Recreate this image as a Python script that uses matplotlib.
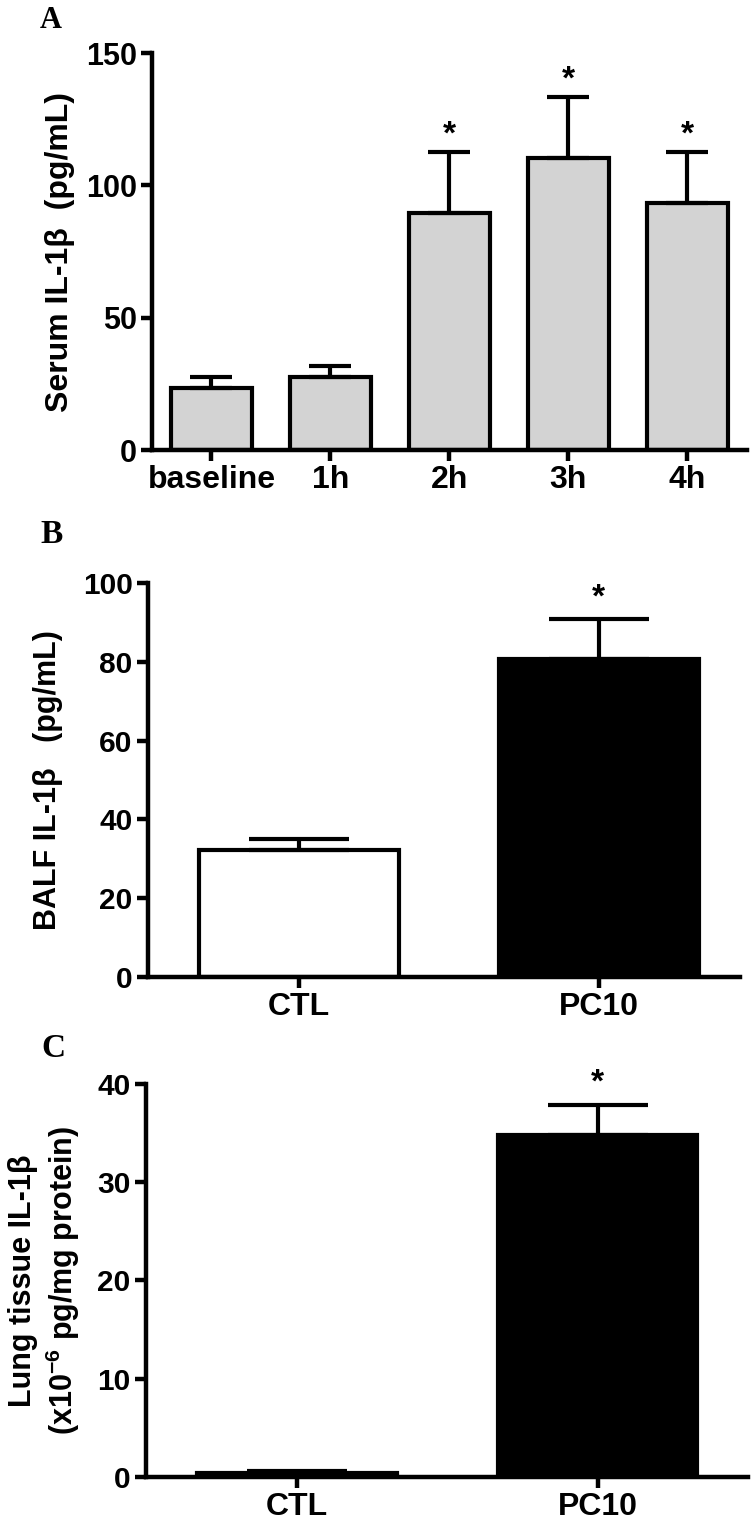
import numpy as np
import matplotlib
matplotlib.use('Agg')
import matplotlib.pyplot as plt

# Panel A: serum IL-1b over time
a_labels = ['baseline', '1h', '2h', '3h', '4h']
a_means = [23.5, 27.7, 89.5, 110.3, 93.3]
a_errs = [4.2, 4.1, 23.1, 23.1, 19.3]
a_sig = [False, False, True, True, True]

# Panel B: BALF IL-1b
b_labels = ['CTL', 'PC10']
b_means = [32.2, 80.7]
b_errs = [2.8, 10.2]
b_sig = [False, True]

# Panel C: lung tissue IL-1b
c_labels = ['CTL', 'PC10']
c_means = [0.45, 34.8]
c_errs = [0.15, 3.1]
c_sig = [False, True]

sans = 'Liberation Sans'
serif = 'Liberation Serif'

plt.rcParams['font.family'] = [sans, 'DejaVu Sans']
plt.rcParams['font.weight'] = 'bold'
plt.rcParams['axes.linewidth'] = 3.2
plt.rcParams['mathtext.fontset'] = 'custom'
plt.rcParams['mathtext.rm'] = sans + ':bold'
plt.rcParams['mathtext.default'] = 'rm'

fig = plt.figure(figsize=(7.55, 15.25), dpi=100)

LW = 3.0


def draw_panel(ax, labels, means, errs, sig, colors, ylim, yticks, width,
               xlim, capsize, ytick_size, xtick_size, star_off):
    x = np.arange(len(labels))
    ax.bar(x, means, width=width, color=colors, edgecolor='black',
           linewidth=LW, zorder=2)
    ax.errorbar(x, means, yerr=[np.zeros(len(errs)), errs], fmt='none',
                ecolor='black', elinewidth=LW, capsize=capsize, capthick=LW,
                zorder=3)
    for xi, m, e, s in zip(x, means, errs, sig):
        if s:
            ax.annotate('*', (xi, m + e), xytext=(0, star_off),
                        textcoords='offset points', ha='center', va='bottom',
                        fontsize=24, fontweight='bold')
    ax.set_xlim(*xlim)
    ax.set_ylim(*ylim)
    ax.set_yticks(yticks)
    ax.set_xticks(x)
    ax.set_xticklabels(labels)
    for sp in ['top', 'right']:
        ax.spines[sp].set_visible(False)
    ax.tick_params(axis='both', direction='out', width=3.2, length=8, pad=3)
    for t in ax.get_yticklabels():
        t.set_fontsize(ytick_size)
        t.set_fontweight('bold')
    for t in ax.get_xticklabels():
        t.set_fontsize(xtick_size)
        t.set_fontweight('bold')


# Panel A
axA = fig.add_axes([0.2013, 0.7049, 0.788, 0.2603])
draw_panel(axA, a_labels, a_means, a_errs, a_sig, '#d3d3d3', (0, 150),
           [0, 50, 100, 150], 0.68, (-0.5, 4.5), 15, 22, 23, 1)
axA.set_ylabel('Serum IL-1β  (pg/mL)', fontsize=23, fontweight='bold')
axA.yaxis.set_label_coords(-0.13, 0.5)

# Panel B
axB = fig.add_axes([0.196, 0.3593, 0.784, 0.2584])
draw_panel(axB, b_labels, b_means, b_errs, b_sig, ['white', 'black'],
           (0, 100), [0, 20, 40, 60, 80, 100], 0.665, (-0.503, 1.47), 36,
           21.5, 23, 4)
axB.set_ylabel('BALF IL-1β   (pg/mL)', fontsize=22, fontweight='bold')
axB.yaxis.set_label_coords(-0.143, 0.5)

# Panel C
axC = fig.add_axes([0.1934, 0.0315, 0.797, 0.2577])
draw_panel(axC, c_labels, c_means, c_errs, c_sig, ['white', 'black'],
           (0, 40), [0, 10, 20, 30, 40], 0.665, (-0.503, 1.5), 36,
           21.5, 23, 4)
axC.set_ylabel('Lung tissue IL-1β\n(x10$^{-6}$ pg/mg protein)', fontsize=22,
               fontweight='bold', linespacing=1.2)
axC.yaxis.set_label_coords(-0.106, 0.5)

# panel letters
fig.text(40 / 755, 1 - 28 / 1525, 'A', family=serif, fontweight='bold',
         fontsize=22)
fig.text(40 / 755, 1 - 543 / 1525, 'B', family=serif, fontweight='bold',
         fontsize=24)
fig.text(41 / 755, 1 - 1057 / 1525, 'C', family=serif, fontweight='bold',
         fontsize=24)

fig.savefig('out.png', dpi=100)
